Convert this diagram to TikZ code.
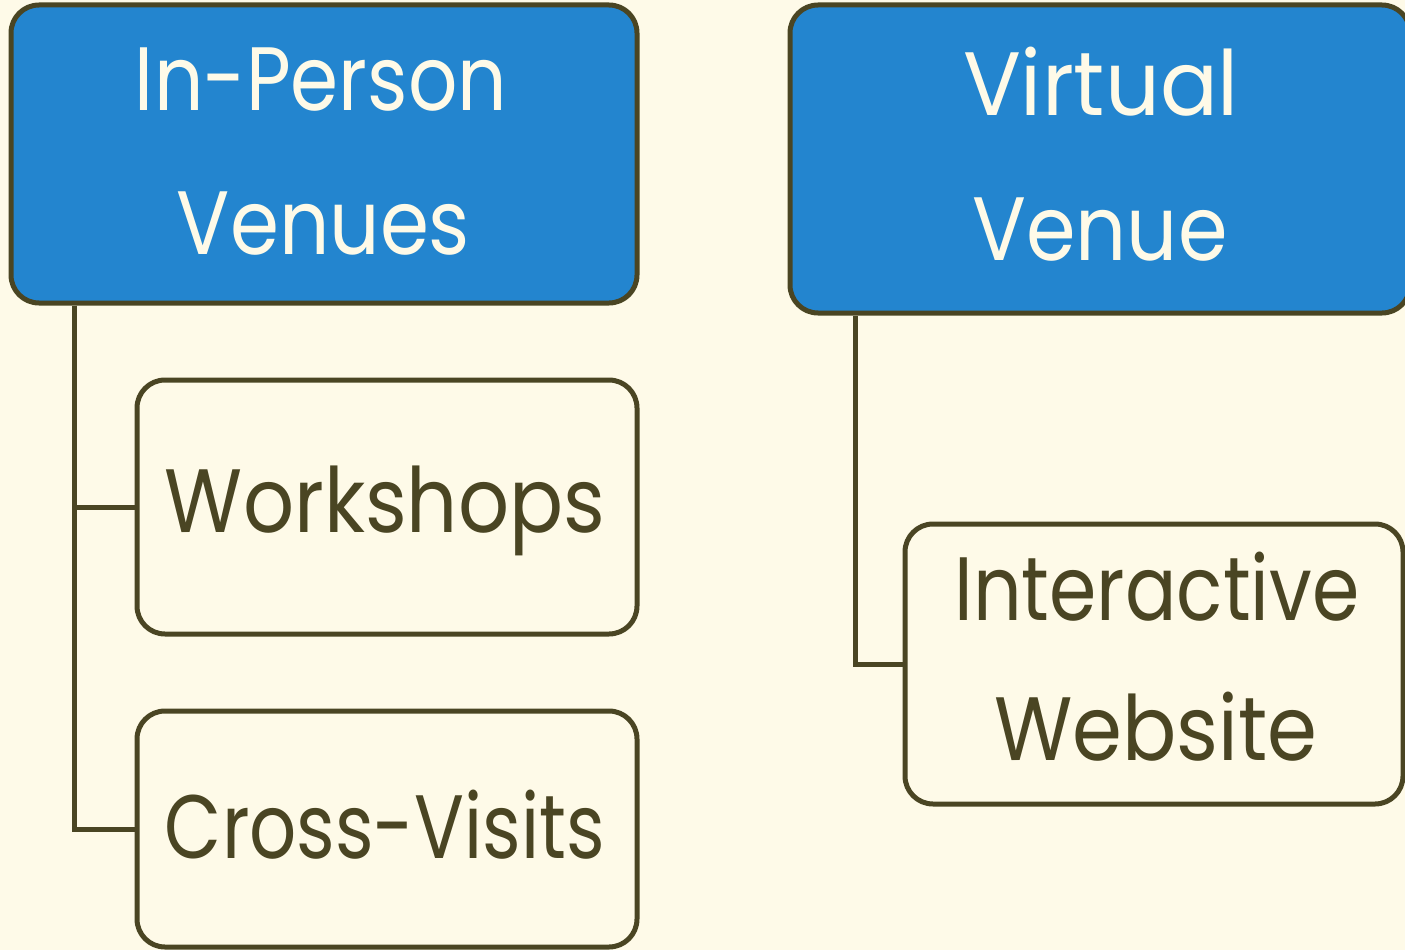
\documentclass[tikz,border=0pt]{standalone}
\usepackage{fontspec}
\usepackage{graphicx}
\setmainfont{Poppins}
\definecolor{bg}{HTML}{FEFAE8}
\definecolor{hdr}{HTML}{2385CF}
\definecolor{olive}{HTML}{4A4523}
\definecolor{hdrtext}{HTML}{FEFAE8}
\newcommand{\fitw}[2]{\resizebox{#1pt}{\height}{#2}}
\begin{document}
\begin{tikzpicture}[x=1pt,y=-1pt,
  box/.style={draw=olive, line width=5pt, rounded corners=28pt, inner sep=0pt},
  head/.style={box, fill=hdr},
  child/.style={box, fill=bg},
  txt/.style={anchor=base, inner sep=0pt, font=\fontsize{90}{100}\selectfont},
  htxt/.style={txt, text=hdrtext},
  ctxt/.style={txt, text=olive},
  link/.style={draw=olive, line width=5pt}]
\fill[bg] (0,0) rectangle (1405,950);
\useasboundingbox (0,0) rectangle (1405,950);
% boxes
\node[head, minimum width=626pt, minimum height=298pt] (inp) at (324,154) {};
\node[head, minimum width=620pt, minimum height=308pt] (vir) at (1100,159) {};
\node[child, minimum width=500pt, minimum height=254pt] (ws) at (387,507) {};
\node[child, minimum width=500pt, minimum height=236pt] (cv) at (387,829) {};
\node[child, minimum width=498pt, minimum height=280pt] (iw) at (1154,664) {};
% texts
\node[htxt] (inp1) at (321,110) {\fitw{372}{In-Person}};
\node[htxt] (inp2) at (323.5,254) {\fitw{293}{Venues}};
\node[htxt] (vir1) at (1101,115) {\fitw{276}{Virtual}};
\node[htxt] (vir2) at (1100,260) {\fitw{255}{Venue}};
\node[ctxt] (wst) at (385,532) {\fitw{440}{Workshops}};
\node[ctxt] (cvt) at (385,858) {\fitw{440}{Cross-Visits}};
\node[ctxt] (iw1) at (1157,620) {\fitw{405}{Interactive}};
\node[ctxt] (iw2) at (1156,760) {\fitw{323}{Website}};
% connectors
\coordinate (l0) at (74,0);
\coordinate (r0) at (855,0);
\draw[link] (inp.south -| l0) |- (ws.west);
\draw[link] (inp.south -| l0) |- (cv.west);
\draw[link] (vir.south -| r0) |- (iw.west);
\end{tikzpicture}
\end{document}
